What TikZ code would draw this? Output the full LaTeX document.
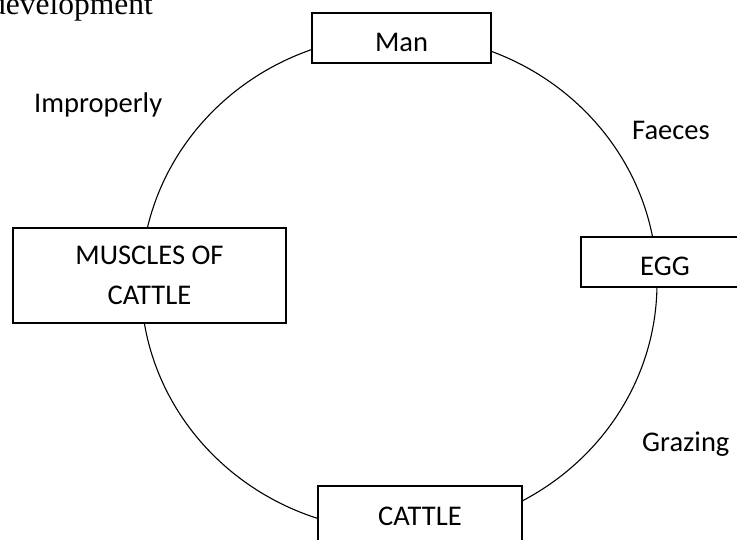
\documentclass[tikz,border=0pt]{standalone}
\usepackage{fontspec}
\setmainfont{Carlito}
\newfontfamily\timesfont{Liberation Serif}
\begin{document}
\begin{tikzpicture}[x=1pt, y=-1pt,
  bx/.style={rectangle, draw=black, fill=white, line width=1.2pt, inner sep=0pt, font=\fontsize{28.5}{40}\selectfont},
  one/.style={anchor=base, text height=39pt, text depth=11pt},
  lb/.style={inner sep=0pt, anchor=base west, font=\fontsize{28.5}{34}\selectfont},
  e/.style={black, line width=1.1pt}]
\useasboundingbox (0,0) rectangle (737,540);
\clip (0,0) rectangle (737,540);
% cycle
\coordinate (c) at (399,283);
\draw[e] (c) ellipse [x radius=258, y radius=248];
% stages
\node[bx, one, minimum width=179pt] (man) at (401.5,52) {Man};
\node[bx, one, minimum width=168pt] (egg) at (665,276) {EGG};
\node[bx, one, minimum width=204pt, text depth=25pt] (cattle) at (420,525) {CATTLE};
\node[bx, minimum width=273pt, minimum height=95pt, align=center] (muscle) at (149.5,275.5) {MUSCLES OF\\CATTLE};
% labels
\node[lb] (imp) at (34,113) {Improperly};
\node[lb] (fae) at (632,140) {Faeces};
\node[lb] (gra) at (642,451) {Grazing};
\node[inner sep=0pt, anchor=base east, font=\timesfont\fontsize{31.5}{36}\selectfont] (dev) at (153,15) {development};
\end{tikzpicture}
\end{document}
